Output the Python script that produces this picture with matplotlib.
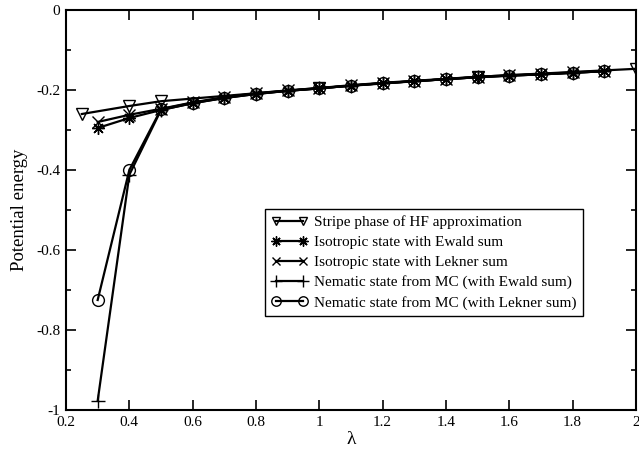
import matplotlib
matplotlib.use("Agg")
import matplotlib.pyplot as plt
from matplotlib.ticker import MultipleLocator, FuncFormatter

plt.rcParams['font.family'] = ['Liberation Serif', 'DejaVu Serif']

# Stripe phase (Hartree-Fock)
x_stripe = [0.25, 0.4, 0.5, 1.0, 1.5, 2.0]
y_stripe = [-0.260, -0.240, -0.228, -0.195, -0.167, -0.147]

# MC / isotropic runs, lambda = 0.3 ... 1.9
x_mc = [0.3, 0.4, 0.5, 0.6, 0.7, 0.8, 0.9, 1.0, 1.1, 1.2,
        1.3, 1.4, 1.5, 1.6, 1.7, 1.8, 1.9]
y_iso_ewald = [-0.295, -0.270, -0.250, -0.233, -0.220, -0.210, -0.202, -0.196, -0.189,
               -0.183, -0.178, -0.173, -0.168, -0.164, -0.161, -0.157, -0.153]
y_iso_lekner = [-0.280, -0.262, -0.247, -0.231, -0.218, -0.208, -0.201, -0.195, -0.188,
                -0.182, -0.177, -0.172, -0.167, -0.163, -0.160, -0.156, -0.152]
y_nem_ewald = [-0.977, -0.412, -0.250, -0.233, -0.220, -0.210, -0.202, -0.196, -0.189,
               -0.183, -0.178, -0.173, -0.168, -0.164, -0.161, -0.157, -0.153]
y_nem_lekner = [-0.725, -0.400, -0.248, -0.232, -0.219, -0.209, -0.202, -0.196, -0.189,
                -0.183, -0.178, -0.173, -0.168, -0.164, -0.161, -0.157, -0.153]

fig = plt.figure(figsize=(6.39, 4.54), dpi=100)
ax = fig.add_axes([66 / 639, 44 / 454, 570 / 639, 400 / 454])

common = dict(color='black', lw=1.6, markerfacecolor='none',
              markeredgecolor='black', markeredgewidth=1.0)
ax.plot(x_stripe, y_stripe, marker='v', ms=8, label='Stripe phase of HF approximation', **common)
ax.plot(x_mc, y_iso_ewald, marker=(8, 2, 0), ms=9, label='Isotropic state with Ewald sum', **common)
ax.plot(x_mc, y_iso_lekner, marker='x', ms=8, label='Isotropic state with Lekner sum', **common)
ax.plot(x_mc, y_nem_ewald, marker='+', ms=10, label='Nematic state from MC (with Ewald sum)', **common)
ax.plot(x_mc, y_nem_lekner, marker='o', ms=8.5, label='Nematic state from MC (with Lekner sum)', **common)

ax.set_xlim(0.2, 2.0)
ax.set_ylim(-1.0, 0.0)
ax.xaxis.set_major_locator(MultipleLocator(0.2))
ax.yaxis.set_major_locator(MultipleLocator(0.2))
ax.yaxis.set_minor_locator(MultipleLocator(0.1))
fmt = FuncFormatter(lambda v, p: '%g' % round(v, 6) if abs(v) > 1e-9 else '0')
ax.xaxis.set_major_formatter(fmt)
ax.yaxis.set_major_formatter(fmt)
ax.tick_params(which='both', direction='in', top=True, right=True, labelsize=11, width=1.2)
ax.tick_params(which='major', length=7, pad=4)
ax.tick_params(which='minor', length=3.8)
for s in ax.spines.values():
    s.set_linewidth(1.5)

ax.set_xlabel('λ', fontsize=14, labelpad=2)
ax.set_ylabel('Potential energy', fontsize=13.5, labelpad=6)

leg = ax.legend(loc='upper left', bbox_to_anchor=(265 / 639, 1 - 209 / 454),
                bbox_transform=fig.transFigure, borderaxespad=0, numpoints=2, fontsize=11,
                handlelength=2.4, handletextpad=0.4, labelspacing=0.42,
                borderpad=0.4, markerscale=0.8, fancybox=False, framealpha=1)
leg.get_frame().set_edgecolor('black')
leg.get_frame().set_linewidth(1.0)

fig.savefig('out.png', dpi=100)
